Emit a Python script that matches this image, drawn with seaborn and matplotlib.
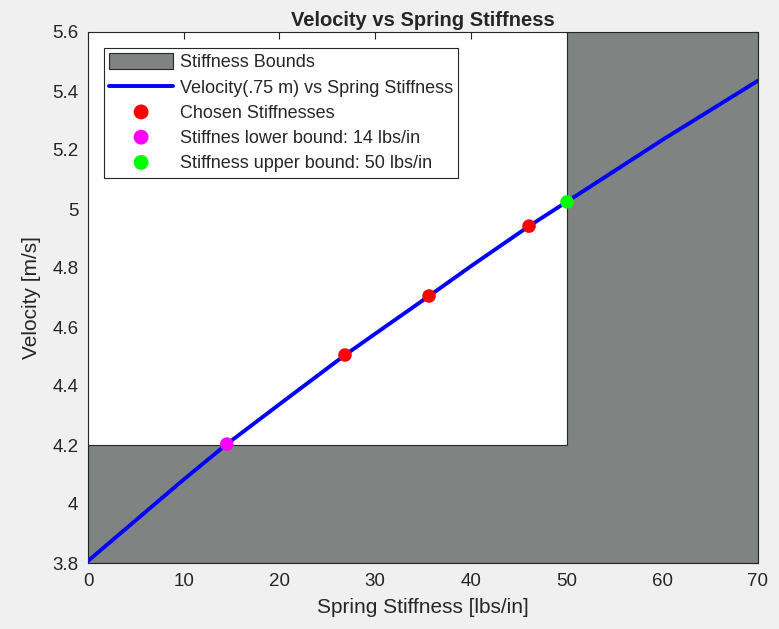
import matplotlib
matplotlib.use("Agg")
import matplotlib.pyplot as plt
import seaborn as sns
import pandas as pd

# ---- data ----
stiffness = [0, 10, 14.5, 20, 26.85, 30, 35.63, 40, 46.08, 50, 60, 70]
velocity = [3.807, 4.083, 4.203, 4.338, 4.505, 4.577, 4.705, 4.806, 4.942, 5.024, 5.234, 5.435]
chosen_k = [26.85, 35.63, 46.08]
chosen_v = [4.505, 4.705, 4.942]
lower_k, lower_v = [14.5], [4.203]
upper_k, upper_v = [50.05], [5.024]
bound_x = [0, 0, 50, 50, 70, 70]
bound_y = [3.8, 4.2, 4.2, 5.6, 5.6, 3.8]

sns.set_style("white")
plt.rcParams['font.family'] = ['Liberation Sans', 'DejaVu Sans']

fig = plt.figure(figsize=(7.79, 6.29), dpi=100)
fig.patch.set_facecolor('#f0f0f0')
ax = fig.add_axes([88/779, 1-563/629, (758-88)/779, (563-32)/629])
ax.set_facecolor('white')

ax.fill(bound_x, bound_y, facecolor='#7f8482', edgecolor='#262626', lw=0.8,
        label='Stiffness Bounds', zorder=1)

df = pd.DataFrame({'k': stiffness, 'v': velocity})
sns.lineplot(data=df, x='k', y='v', ax=ax, color='#0000ff', lw=2.8,
             label='Velocity(.75 m) vs Spring Stiffness', zorder=3)
sns.scatterplot(x=chosen_k, y=chosen_v, ax=ax, color='#ff0000', s=95,
                edgecolor='none', label='Chosen Stiffnesses', zorder=4)
sns.scatterplot(x=lower_k, y=lower_v, ax=ax, color='#ff00ff', s=95,
                edgecolor='none', label='Stiffnes lower bound: 14 lbs/in', zorder=4)
sns.scatterplot(x=upper_k, y=upper_v, ax=ax, color='#00ff00', s=95,
                edgecolor='none', label='Stiffness upper bound: 50 lbs/in', zorder=4)

ax.set_xlim(0, 70)
ax.set_ylim(3.8, 5.6)
ax.set_xticks(range(0, 71, 10))
ax.set_yticks([3.8, 4.0, 4.2, 4.4, 4.6, 4.8, 5.0, 5.2, 5.4, 5.6])
ax.set_yticklabels(['3.8', '4', '4.2', '4.4', '4.6', '4.8', '5', '5.2', '5.4', '5.6'])
ax.tick_params(direction='in', length=5, width=0.8, top=True, right=True,
               labelsize=13.5, colors='#262626', pad=7)
for s in ax.spines.values():
    s.set_color('#262626')
    s.set_linewidth(0.8)

ax.set_xlabel('Spring Stiffness [lbs/in]', fontsize=15, color='#262626', labelpad=6)
ax.set_ylabel('Velocity [m/s]', fontsize=15, color='#262626', labelpad=8)
ax.set_title('Velocity vs Spring Stiffness', fontsize=14.5, fontweight='bold', pad=4)

leg = ax.legend(loc='upper left', bbox_to_anchor=(0.024, 0.97), fontsize=13,
                frameon=True, fancybox=False, edgecolor='#262626', framealpha=1,
                handlelength=3.5, handleheight=0.95, handletextpad=0.4,
                borderpad=0.3, labelspacing=0.4, borderaxespad=0, markerscale=1.1)
leg.get_frame().set_linewidth(0.8)

fig.savefig('out.png', dpi=100, facecolor=fig.get_facecolor())
